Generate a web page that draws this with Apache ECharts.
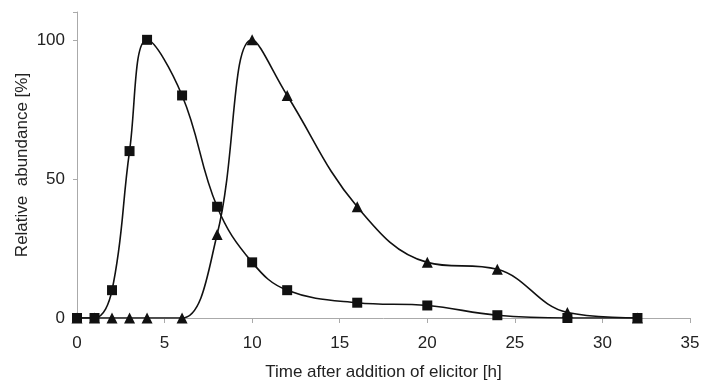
<!DOCTYPE html>
<html><head><meta charset="utf-8">
<script src="https://cdn.jsdelivr.net/npm/echarts@6/dist/echarts.min.js"></script>
<style>html,body{margin:0;padding:0;background:#fff}#c{width:706px;height:383px}</style>
</head><body><div id="c"></div>
<script>
const squareX = [0, 1, 2, 3, 4, 6, 8, 10, 12, 16, 20, 24, 28, 32];
const squareY = [0, 0, 10, 60, 100, 80, 40, 20, 10, 5.5, 4.5, 1, 0, 0];
const triangleX = [0, 1, 2, 3, 4, 6, 8, 10, 12, 16, 20, 24, 28, 32];
const triangleY = [0, 0, 0, 0, 0, 0, 30, 100, 80, 40, 20, 17.5, 2, 0];
const xTicks = [0, 5, 10, 15, 20, 25, 30, 35];
const yTicks = [0, 50, 100];

const pair = (xs, ys) => xs.map((x, i) => [x, ys[i]]);
const font = 'Liberation Sans, Arial, sans-serif';
const chart = echarts.init(document.getElementById('c'), null, {renderer: 'canvas'});
chart.setOption({
  animation: false,
  grid: {left: 77, right: 16, top: 12, bottom: 65, containLabel: false, outerBoundsMode: 'none'},
  xAxis: {
    type: 'value', min: 0, max: 35, interval: 5,
    name: 'Time after addition of elicitor [h]', nameLocation: 'middle', nameGap: 46,
    nameMoveOverlap: false,
    nameTextStyle: {fontFamily: font, fontSize: 17, color: '#222'},
    axisLine: {lineStyle: {color: '#aaa', width: 1}},
    axisTick: {show: true, length: 5, lineStyle: {color: '#aaa'}},
    axisLabel: {fontFamily: font, fontSize: 17, color: '#222', margin: 17,
      formatter: v => xTicks.includes(v) ? String(v) : ''},
    splitLine: {show: false}
  },
  yAxis: {
    type: 'value', min: 0, max: 110, interval: 50,
    name: 'Relative  abundance [%]', nameLocation: 'middle', nameGap: 46, nameRotate: 90,
    nameMoveOverlap: false,
    nameTextStyle: {fontFamily: font, fontSize: 17, color: '#222'},
    axisLine: {show: true, lineStyle: {color: '#aaa', width: 1}},
    axisTick: {show: true, length: 4, lineStyle: {color: '#aaa'}},
    axisLabel: {fontFamily: font, fontSize: 17, color: '#222', margin: 12,
      formatter: v => yTicks.includes(v) ? String(v) : ''},
    splitLine: {show: false}
  },
  series: [
    {
      type: 'line', data: pair(triangleX, triangleY), smooth: 0.4,
      symbol: 'triangle', symbolSize: 11,
      itemStyle: {color: '#111'}, lineStyle: {color: '#111', width: 1.6}, z: 2
    },
    {
      type: 'line', data: pair(squareX, squareY), smooth: 0.4,
      symbol: 'rect', symbolSize: 10,
      itemStyle: {color: '#111'}, lineStyle: {color: '#111', width: 1.6}, z: 3
    }
  ]
});
</script></body></html>
